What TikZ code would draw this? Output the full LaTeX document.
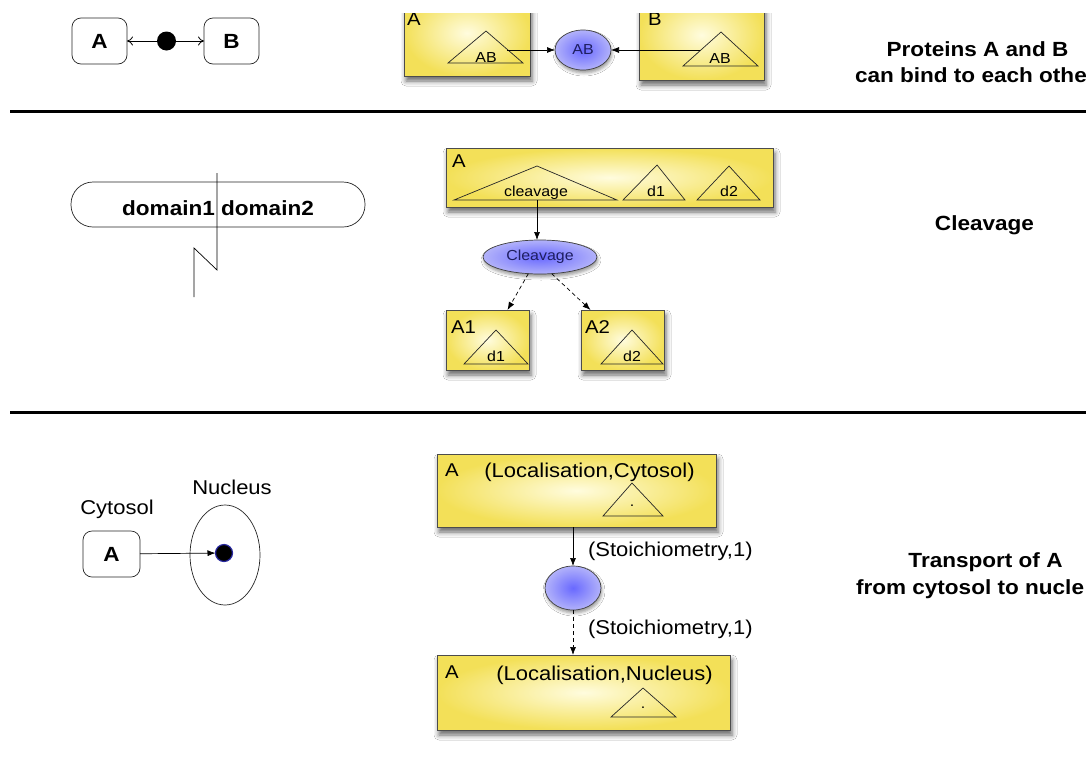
\documentclass[tikz,border=0pt]{standalone}
\usepackage{fontspec}
\setmainfont{Liberation Sans}[FakeStretch=1.1]
\usetikzlibrary{arrows.meta,shapes.geometric,shadows.blur,calc}
\definecolor{ylw}{RGB}{243,224,88}
\definecolor{ylwin}{RGB}{255,252,222}
\definecolor{blin}{RGB}{105,105,255}
\definecolor{blout}{RGB}{178,178,250}
\definecolor{bltxt}{RGB}{30,30,95}
\newcommand\fmd{\fontsize{20}{24}\selectfont}
\newcommand\fbd{\fontsize{20.5}{24}\selectfont}
\newcommand\fsm{\fontsize{14.5}{17}\selectfont}
\newcommand\flb{\fontsize{18.5}{22}\selectfont}
\begin{document}
\begin{tikzpicture}[x=1pt,y=-1pt,
  every node/.style={inner sep=0pt, outer sep=0pt},
  ybox/.style={draw=black!70, line width=0.7pt, inner color=ylwin, outer color=ylw,
    blur shadow={shadow xshift=2pt, shadow yshift=-5pt, shadow blur radius=5pt, shadow opacity=60}},
  bell/.style={ellipse, draw=black!75, line width=0.7pt, inner color=blin, outer color=blout,
    blur shadow={shadow xshift=1pt, shadow yshift=-3pt, shadow blur radius=3pt, shadow opacity=40}},
  rbox/.style={draw=black!85, line width=0.7pt, rounded corners=9pt, fill=white, font=\fbd\bfseries},
  tri/.style={draw=black!85, line width=0.7pt},
  arr/.style={-{Latex[length=8pt,width=6pt]}, line width=0.7pt},
  darr/.style={arr, dash pattern=on 4pt off 3pt},
  oarr/.style={-{To[length=6pt,width=9pt]}, line width=0.8pt},
  sep/.style={line width=3pt},
  blbl/.style={font=\fbd\bfseries},
  mlbl/.style={font=\fmd},
  slbl/.style={font=\fsm},
  klbl/.style={font=\flb, anchor=base west},
  dotn/.style={circle, fill=black, minimum size=19pt}
]
\useasboundingbox (0,0) rectangle (1086,769);
\fill[white] (0,0) rectangle (1086,769);

% ---------- separators
\draw[sep] (10,111) coordinate (s1a) -- (1086,111) coordinate (s1b);
\draw[sep] (10,412) coordinate (s2a) -- (1086,412) coordinate (s2b);

% ---------- top left: binding
\node[rbox, minimum width=55pt, minimum height=46pt] (rA) at (99.5,41) {A};
\node[rbox, minimum width=55pt, minimum height=46pt] (rB) at (231.5,41) {B};
\node[dotn] (bd) at (166.5,41) {};
\draw[oarr] (bd) -- (rA);
\draw[oarr] (bd) -- (rB);

% ---------- top middle
\begin{scope}
\clip (0,13) rectangle (1086,111);
\node[ybox, minimum width=126pt, minimum height=86pt] (tA) at (467,33) {};
\node[ybox, minimum width=125pt, minimum height=90pt] (tB) at (701.5,35) {};
\node[klbl] (tAl) at (407,25) {A};
\node[klbl] (tBl) at (648,25) {B};
\end{scope}
\draw[tri] (448,63) -- (486,31) -- (523,63) -- cycle;
\draw[tri] (683,66) -- (721,32) -- (758,66) -- cycle;
\node[slbl, anchor=base] (abA) at (486,62) {AB};
\node[slbl, anchor=base] (abB) at (720,63) {AB};
\node[bell, minimum width=56pt, minimum height=40pt, font=\fsm, text=bltxt] (eAB) at (583,50) {AB};
\coordinate (sA) at (507,50);
\coordinate (sB) at (700,50);
\draw[arr] (sA) -- (eAB);
\draw[arr] (sB) -- (eAB);

\node[blbl, anchor=base] (p1) at (977.5,56) {Proteins A and B};
\node[blbl, anchor=base west] (p2) at (855,82) {can bind to each othe};

% ---------- middle left: domains
\node[draw=black!85, line width=0.7pt, rounded corners=22pt, minimum width=294pt, minimum height=45pt] (dom) at (218,204.5) {};
\node[blbl, anchor=base] (domt) at (218,215) {domain1 domain2};
\draw[line width=0.7pt] (217,173) coordinate (z0) -- (217,270) coordinate (z1) -- (194,248) coordinate (z2) -- (194,297) coordinate (z3);

% ---------- middle: cleavage
\node[ybox, minimum width=327pt, minimum height=59pt] (cA) at (609.5,177.5) {};
\node[klbl] (cAl) at (452,167) {A};
\draw[tri] (454,200) -- (537,166) -- (617,200) -- cycle;
\draw[tri] (623,200) -- (657,165) -- (685,200) -- cycle;
\draw[tri] (697,200) -- (729,166) -- (760,200) -- cycle;
\node[slbl, anchor=base] (clv) at (536,196) {cleavage};
\node[slbl, anchor=base] (cd1) at (656,196) {d1};
\node[slbl, anchor=base] (cd2) at (729,196) {d2};
\coordinate (cvg) at (537,200);
\node[bell, minimum width=114pt, minimum height=34pt, font=\fsm, text=bltxt] (cl) at (540,257) {Cleavage};
\draw[arr] (cvg) -- (cvg |- cl.north);

\node[ybox, minimum width=83pt, minimum height=60pt] (A1) at (487.5,340) {};
\node[ybox, minimum width=83pt, minimum height=60pt] (A2) at (622.5,340) {};
\node[klbl] (A1l) at (451,333) {A1};
\node[klbl] (A2l) at (585,333) {A2};
\draw[tri] (464,364) -- (496,330) -- (528,364) -- cycle;
\draw[tri] (601,364) -- (632,330) -- (663,364) -- cycle;
\node[slbl, anchor=base] (a1d) at (496,361) {d1};
\node[slbl, anchor=base] (a2d) at (632,361) {d2};
\draw[darr] (cl.235) -- ($(A1.north)+(20,0)$);
\draw[darr] (cl.305) -- ($(A2.north)+(-32,0)$);

\node[blbl, anchor=base] (cvl) at (984.5,230) {Cleavage};

% ---------- bottom left: transport
\node[mlbl, anchor=base] (cyt) at (117,514) {Cytosol};
\node[mlbl, anchor=base] (nuc) at (232,494) {Nucleus};
\node[draw=black!85, line width=0.7pt, ellipse, minimum width=70pt, minimum height=100pt] (nel) at (225,555) {};
\node[rbox, minimum width=57pt, minimum height=46pt] (bA) at (111.5,554) {A};
\node[circle, fill=black, draw={rgb,255:red,40;green,40;blue,160}, line width=1.2pt, minimum size=17pt] (nd) at (224,553) {};
\draw[arr] (bA) -- (nd);

% ---------- bottom middle
\node[ybox, minimum width=279pt, minimum height=73pt] (L1) at (576.5,490.5) {};
\node[klbl] (L1a) at (445,476) {A};
\node[mlbl, anchor=base] (L1t) at (589.5,477) {(Localisation,Cytosol)};
\draw[tri] (603,516) -- (632,483) -- (663,516) -- cycle;
\node[slbl, anchor=base] (L1d) at (632,506) {.};

\node[bell, minimum width=56pt, minimum height=44pt] (st) at (573,588) {};
\draw[arr] (st |- L1.south) -- (st);
\node[mlbl, anchor=base west] (sl1) at (588,556) {(Stoichiometry,1)};

\node[ybox, minimum width=293pt, minimum height=75pt] (L2) at (583.5,692.5) {};
\draw[darr] (st) -- (st |- L2.north);
\node[mlbl, anchor=base west] (sl2) at (588,634) {(Stoichiometry,1)};
\node[klbl] (L2a) at (445,678) {A};
\node[mlbl, anchor=base] (L2t) at (604.5,680) {(Localisation,Nucleus)};
\draw[tri] (611,717) -- (643,688) -- (676,717) -- cycle;
\node[slbl, anchor=base] (L2d) at (643,708) {.};

\node[blbl, anchor=base] (tr1) at (985.5,567) {Transport of A};
\node[blbl, anchor=base west] (tr2) at (856,594) {from cytosol to nucle};
\end{tikzpicture}
\end{document}
